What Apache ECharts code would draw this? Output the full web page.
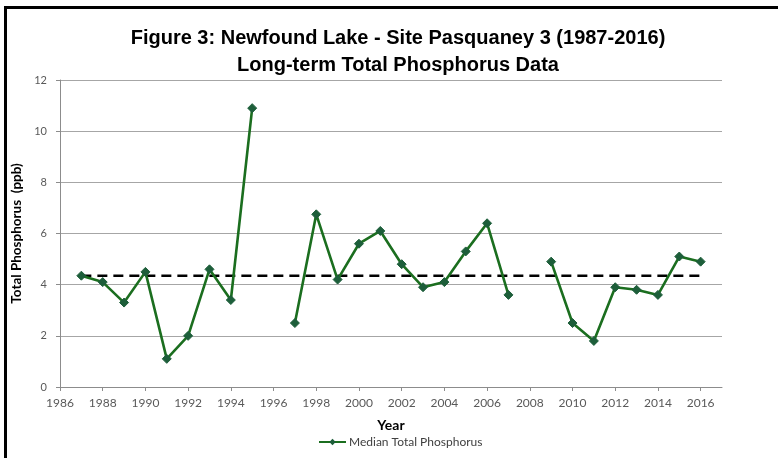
<!DOCTYPE html>
<html>
<head>
<meta charset="utf-8">
<script src="https://cdn.jsdelivr.net/npm/echarts@6/dist/echarts.min.js"></script>
<style>
  html, body { margin: 0; padding: 0; background: #fff; }
  #frame {
    position: absolute; left: 4px; top: 6px; width: 790px; height: 460px;
    border-left: 3px solid #000; border-top: 3px solid #000;
  }
  #chart { position: absolute; left: 0; top: 0; width: 778px; height: 458px; }
</style>
</head>
<body>
<div id="frame"></div>
<div id="chart"></div>
<script>
  // years and median total phosphorus (ppb); null = no sample that year
  var years = [1987, 1988, 1989, 1990, 1991, 1992, 1993, 1994, 1995, 1996,
               1997, 1998, 1999, 2000, 2001, 2002, 2003, 2004, 2005, 2006,
               2007, 2008, 2009, 2010, 2011, 2012, 2013, 2014, 2015, 2016];
  var medianTP = [4.35, 4.1, 3.3, 4.5, 1.1, 2.0, 4.6, 3.4, 10.9, null,
                  2.5, 6.75, 4.2, 5.6, 6.1, 4.8, 3.9, 4.1, 5.3, 6.4,
                  3.6, null, 4.9, 2.5, 1.8, 3.9, 3.8, 3.6, 5.1, 4.9];
  var longTermMedian = 4.35;
  var xTicks = [1986, 1988, 1990, 1992, 1994, 1996, 1998, 2000, 2002,
                2004, 2006, 2008, 2010, 2012, 2014, 2016];

  var font = 'Lato, "Liberation Sans", sans-serif';

  var chart = echarts.init(document.getElementById('chart'));

  var option = {
    animation: false,
    textStyle: { fontFamily: font },
    title: {
      text: 'Figure 3: Newfound Lake - Site Pasquaney 3 (1987-2016)\nLong-term Total Phosphorus Data',
      left: 393,
      top: 20,
      textAlign: 'center',
      textStyle: {
        fontFamily: '"Liberation Sans", Arial, sans-serif',
        fontSize: 20, fontWeight: 'bold', color: '#000', lineHeight: 27
      }
    },
    legend: {
      top: 431,
      left: 313,
      itemWidth: 27,
      itemHeight: 8,
      itemGap: 4,
      data: ['Median Total Phosphorus'],
      textStyle: { fontFamily: font, fontSize: 12, color: '#404040', padding: [0, 0, 0, -2] }
    },
    grid: { left: 60, right: 56, top: 80, bottom: 71 },
    xAxis: {
      type: 'value',
      min: 1986,
      max: 2017,
      interval: 2,
      name: 'Year',
      nameLocation: 'middle',
      nameGap: 31,
      nameTextStyle: { fontFamily: font, fontSize: 14, fontWeight: 'bold', color: '#000' },
      splitLine: { show: false },
      axisLine: { lineStyle: { color: '#8c8c8c', width: 1 } },
      axisTick: { length: 4, customValues: xTicks, lineStyle: { color: '#8c8c8c' } },
      axisLabel: {
        customValues: xTicks, margin: 10, fontSize: 12, color: '#595959',
        formatter: function (v) { return String(v); }
      }
    },
    yAxis: {
      type: 'value',
      min: 0,
      max: 12,
      interval: 2,
      name: 'Total Phosphorus  (ppb)',
      nameLocation: 'middle',
      nameGap: 31,
      nameTextStyle: { fontFamily: font, fontSize: 13.5, fontWeight: 'bold', color: '#000' },
      axisLine: { show: true, lineStyle: { color: '#8c8c8c', width: 1 } },
      axisTick: { show: true, length: 4, lineStyle: { color: '#8c8c8c' } },
      axisLabel: { margin: 13, fontSize: 11, color: '#595959' },
      splitLine: { lineStyle: { color: '#a6a6a6', width: 1.2 } }
    },
    series: [
      {
        name: 'Long-term median',
        type: 'line',
        data: [[years[0], longTermMedian], [years[years.length - 1], longTermMedian]],
        symbol: 'none',
        silent: true,
        z: 1,
        lineStyle: { color: '#000', width: 2.5, type: [10, 6] }
      },
      {
        name: 'Median Total Phosphorus',
        type: 'line',
        data: years.map(function (y, i) { return [y, medianTP[i]]; }),
        connectNulls: false,
        symbol: 'diamond',
        symbolSize: 9,
        z: 3,
        lineStyle: { color: '#1b6e1f', width: 2.6 },
        itemStyle: { color: '#1d5e3a', borderColor: '#1d5e3a' }
      }
    ]
  };

  chart.setOption(option);
</script>
</body>
</html>
